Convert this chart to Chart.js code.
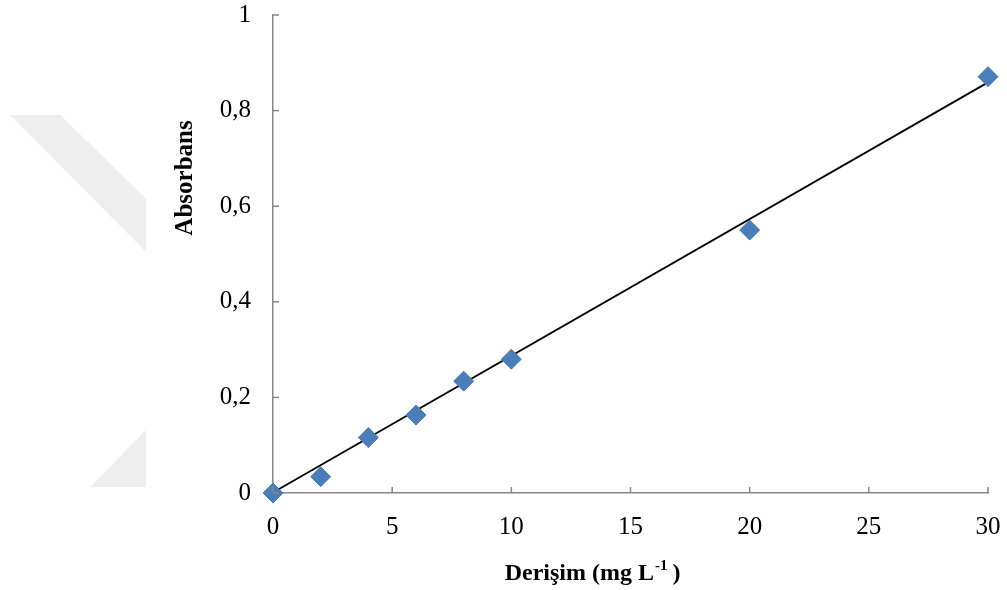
<!DOCTYPE html>
<html>
<head>
<meta charset="utf-8">
<script src="https://cdn.jsdelivr.net/npm/chart.js@4/dist/chart.umd.min.js"></script>
<style>
  html, body { margin: 0; padding: 0; background: #fff; }
  #wrap { position: relative; width: 1007px; height: 590px; }
  /* faint watermark shapes at the left edge */
  .wm { position: absolute; background: #eeeeee; }
  #wm1 { left: 10px; top: 115px; width: 136px; height: 137px;
         clip-path: polygon(0 0, 37% 0, 100% 61%, 100% 100%); }
  #wm2 { left: 90px; top: 430px; width: 56px; height: 57px;
         clip-path: polygon(100% 0, 100% 100%, 0 100%); }
  canvas { position: relative; }
</style>
</head>
<body>
<div id="wrap">
  <div class="wm" id="wm1"></div>
  <div class="wm" id="wm2"></div>
  <canvas id="chart"></canvas>
</div>
<script>
// ===== Data =====
const concX = [0, 2, 4, 6, 8, 10, 20, 30];           // mg L-1
const absY  = [0.0, 0.034, 0.116, 0.163, 0.234, 0.280, 0.550, 0.871];
const trendX = [0, 30];
const trendY = [0.001, 0.859];
const xTitle = 'Derişim (mg L';
const xTitleSup = '-1';
const yTitle = 'Absorbans';

const SERIF = '"Liberation Serif", "Times New Roman", serif';
const AXIS_GRAY = '#868686';

const points = concX.map((x, i) => ({ x: x, y: absY[i] }));
const trend = trendX.map((x, i) => ({ x: x, y: trendY[i] }));

// inside tick marks + axis titles
const axisDeco = {
  id: 'axisDeco',
  afterDraw(chart) {
    const { ctx, chartArea: a, scales } = chart;
    ctx.save();
    ctx.strokeStyle = AXIS_GRAY;
    ctx.lineWidth = 1.5;
    scales.x.ticks.forEach(t => {
      const px = scales.x.getPixelForValue(t.value);
      ctx.beginPath(); ctx.moveTo(px, a.bottom); ctx.lineTo(px, a.bottom - 6); ctx.stroke();
    });
    scales.y.ticks.forEach(t => {
      const py = scales.y.getPixelForValue(t.value);
      ctx.beginPath(); ctx.moveTo(a.left, py); ctx.lineTo(a.left + 6, py); ctx.stroke();
    });

    // y title
    ctx.fillStyle = '#000';
    ctx.font = 'bold 25px ' + SERIF;
    ctx.textAlign = 'center';
    ctx.textBaseline = 'middle';
    ctx.translate(186, a.top + (a.bottom - a.top) * 0.341);
    ctx.rotate(-Math.PI / 2);
    ctx.fillText(yTitle, 0, 0);
    ctx.setTransform(1, 0, 0, 1, 0, 0);

    // x title with superscript
    ctx.textAlign = 'left';
    ctx.textBaseline = 'alphabetic';
    ctx.font = 'bold 24px ' + SERIF;
    const w1 = ctx.measureText(xTitle).width;
    ctx.font = 'bold 15px ' + SERIF;
    const w2 = ctx.measureText(xTitleSup).width;
    ctx.font = 'bold 24px ' + SERIF;
    const w3 = ctx.measureText(' )').width;
    const total = w1 + w2 + w3;
    let x0 = a.left + (a.right - a.left) * 0.447 - total / 2;
    const base = 580;
    ctx.fillText(xTitle, x0, base);
    ctx.font = 'bold 15px ' + SERIF;
    ctx.fillText(xTitleSup, x0 + w1 + 1, base - 10);
    ctx.font = 'bold 24px ' + SERIF;
    ctx.fillText(' )', x0 + w1 + w2, base);
    ctx.restore();
  }
};

const chart = new Chart(document.getElementById('chart'), {
  type: 'scatter',
  data: {
    datasets: [
      {
        label: 'Absorbans',
        data: points,
        pointStyle: 'rectRot',
        pointRadius: 10,
        pointHoverRadius: 10,
        backgroundColor: '#4a7ebb',
        borderColor: '#4a7ebb',
        borderWidth: 1,
        clip: false
      },
      {
        label: 'Trend',
        type: 'line',
        data: trend,
        borderColor: '#000',
        borderWidth: 1.8,
        pointRadius: 0,
        fill: false,
        clip: false
      }
    ]
  },
  options: {
    responsive: true,
    maintainAspectRatio: false,
    animation: false,
    layout: { autoPadding: false, padding: { top: 15, right: 19, left: 0, bottom: 0 } },
    plugins: { legend: { display: false }, tooltip: { enabled: false } },
    scales: {
      x: {
        type: 'linear',
        min: 0, max: 30,
        afterFit(s) { s.height = 97; },
        border: { color: AXIS_GRAY, width: 1.5 },
        // tickLength only offsets the labels; the marks themselves are drawn by axisDeco
        grid: { display: false, drawTicks: true, tickLength: 19 },
        ticks: {
          stepSize: 2.5,
          padding: 0,
          color: '#000',
          font: { family: SERIF, size: 25 },
          maxRotation: 0,
          autoSkip: false,
          callback: v => (v % 5 === 0) ? String(v) : null
        }
      },
      y: {
        min: 0, max: 1,
        afterFit(s) { s.width = 273; },
        border: { color: AXIS_GRAY, width: 1.5 },
        grid: { display: false, drawTicks: true, tickLength: 22 },
        ticks: {
          stepSize: 0.1,
          padding: 0,
          color: '#000',
          font: { family: SERIF, size: 25 },
          autoSkip: false,
          callback: v => {
            const r = Math.round(v * 10);
            if (r % 2 !== 0) return null;
            return String(r / 10).replace('.', ',');
          }
        }
      }
    }
  },
  plugins: [axisDeco]
});
</script>
</body>
</html>
